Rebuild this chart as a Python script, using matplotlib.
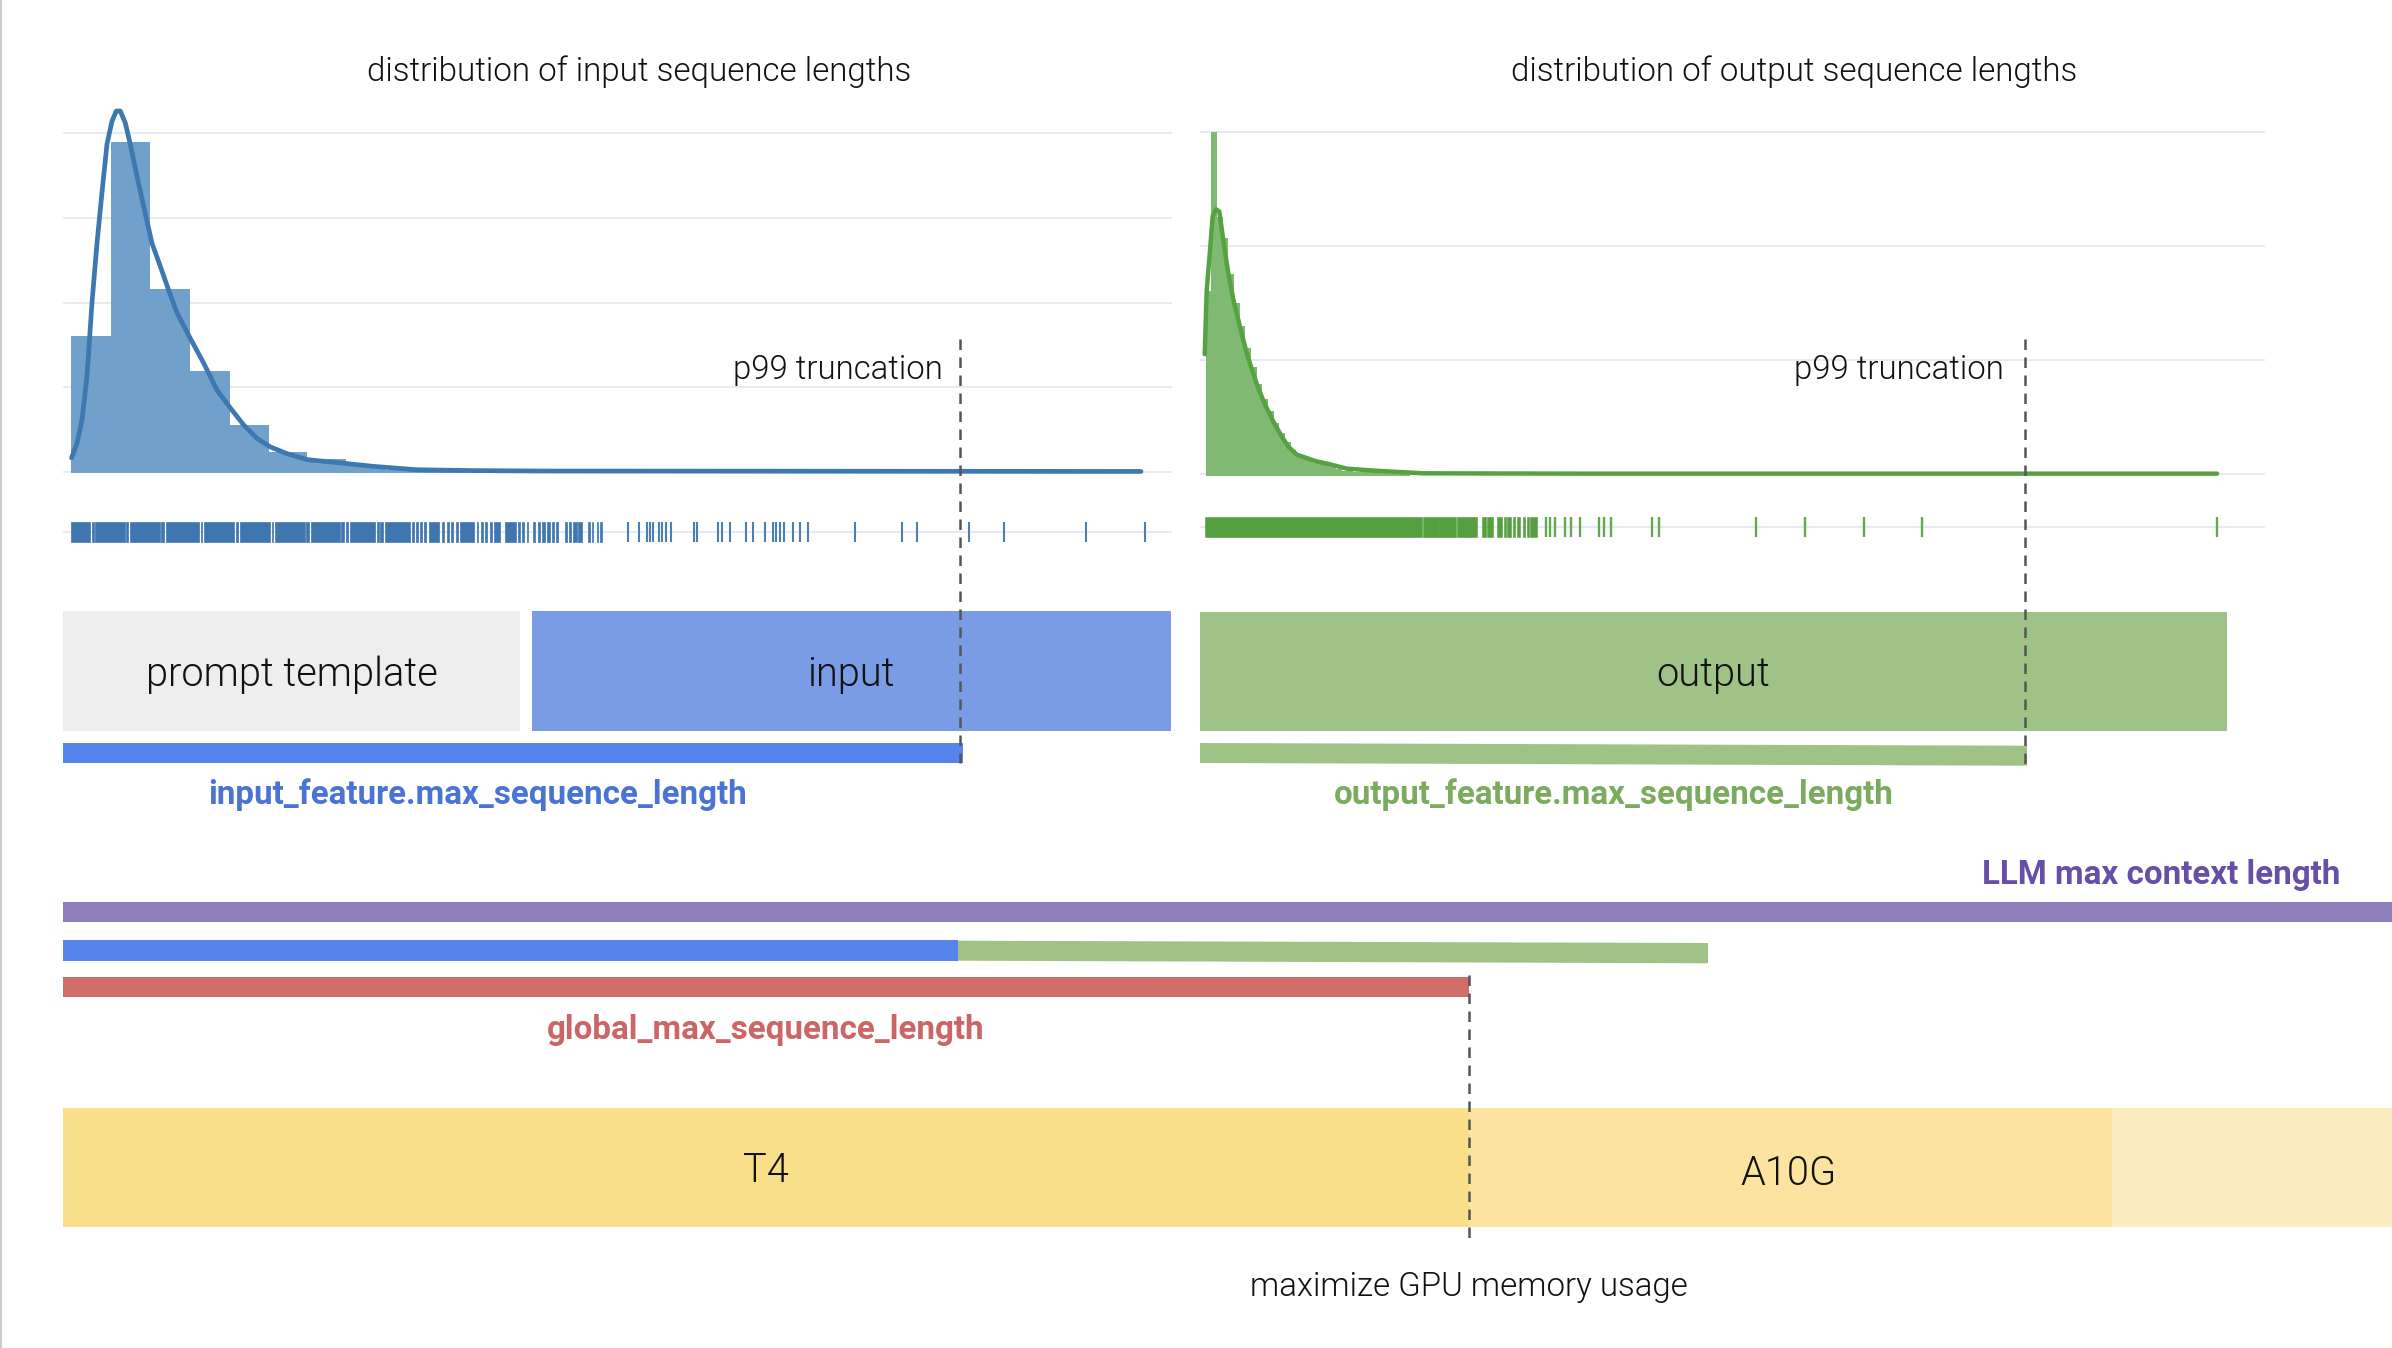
import matplotlib
matplotlib.use("Agg")
import matplotlib.pyplot as plt
from matplotlib.patches import Polygon, Rectangle

plt.rcParams['font.family'] = ['Roboto', 'DejaVu Sans']

W, H = 2392, 1348

# ---------- data ----------
in_bin_edges = [0, 39.4, 78.8, 119, 158.4, 197.8, 235.5, 275, 314, 354, 394]
in_bin_heights = [1.61, 3.90, 2.16, 1.20, 0.56, 0.24, 0.16, 0.07, 0.03, 0.015]
in_kde_x = [0.3, 5.7, 10.7, 15.7, 20.7, 25.7, 30.7, 35.7, 40.7, 45, 49, 54, 59, 65.7, 72.3, 80.7, 89, 97.3,
            105.7, 119, 132.3, 145.7, 159, 172.3, 185.7, 199, 215.7, 235.7, 269, 302.3, 345.7, 402, 469, 1070]
in_kde_y = [.17, .34, .62, 1.13, 2.0, 2.70, 3.30, 3.87, 4.14, 4.26, 4.26, 4.12, 3.87, 3.49, 3.14, 2.70, 2.43, 2.15,
            1.88, 1.58, 1.29, .97, .76, .56, .40, .30, .22, .15, .11, .07, .03, .02, .015, .01]
in_rug_runs = [(0, 19), (20.3, 22.3), (23.7, 53.3), (55, 57), (58.7, 88.3), (90, 92.7), (94.3, 127.3), (129.3, 131),
               (133, 162.7), (164.7, 166.7), (168.3, 198.3), (200.3, 202), (204, 233.3), (235, 237.3), (239.7, 268.3),
               (270, 272.3), (274.3, 276.3), (278.3, 304), (305.7, 307.3), (309, 311.7), (313.3, 339), (340.7, 342.3),
               (344.3, 346.7), (349, 350.7), (353, 355), (357.3, 368.3), (371, 373), (375.7, 377.7), (380.3, 382.3),
               (385, 386.7), (389, 403), (405.7, 407.3), (409.7, 411.7), (414, 415.7), (419, 420.7), (423.3, 429),
               (434, 444.7), (447.3, 449), (450.7, 453), (455.7, 457.3), (461.7, 464.3), (467.3, 469), (470.7, 474),
               (476.3, 479), (480.7, 483), (485, 487.3), (494, 495.7), (498, 499.7), (502.3, 505.7), (507.3, 510.7),
               (517.3, 519), (521.3, 522.3), (525.7, 527.3), (529, 530.7)]
in_rug_ticks = [556.4, 568, 575.7, 578.6, 581.6, 587.5, 591.2, 594.9, 600, 623, 626, 646.7, 651, 658.5, 674.8, 682,
                694, 701.4, 705, 708.8, 713.2, 721.4, 728.8, 736.9, 783.5, 830.9, 846.4, 897.5, 933, 1015, 1073.5]

out_bin_heights = [1.60, 3.00, 2.25, 2.07, 1.75, 1.50, 1.30, 1.10, .94, .79, .66, .55, .45, .36, .28, .21, .17, .15,
                   .12, .10, .09, .08, .06, .044, .03, .023, .02, .02, .018, .015, .015, .012, .012, .01, .01, .01]
out_bin_width = 5.67
out_bin_left = [0.7, 6.37, 12.04, 17.71, 23.38, 29.05, 34.72, 40.39, 46.06, 51.73, 57.4, 63.07, 68.74, 74.41, 80.08,
                85.75, 91.42, 97.09, 102.76, 108.43, 114.1, 119.77, 125.44, 131.11, 136.78, 142.45, 148.12, 153.79,
                159.46, 165.13, 170.8, 176.47, 182.14, 187.81, 193.48, 199.15]
out_kde_x = [-0.3, 1.7, 5, 7.7, 11, 14.3, 18.3, 23.3, 28.3, 35, 41.7, 48.3, 53.3, 60, 68.3, 76.7, 83.3, 91.7, 101.7,
             111.7, 125, 141.7, 168.3, 218.3, 385, 1012]
out_kde_y = [1.05, 1.61, 1.96, 2.26, 2.32, 2.30, 2.05, 1.76, 1.53, 1.29, 1.06, .88, .75, .61, .46, .33, .24, .17, .14,
             .11, .085, .047, .03, .006, .003, .003]
out_rug_runs = [(0, 217), (218, 233.7), (234.3, 250.7), (251.5, 271.7), (276.7, 281), (282.3, 288.3), (292, 297),
                (299.3, 301), (302.3, 305.7), (307.7, 310), (312.3, 315), (317.7, 320), (321.7, 323.7), (325, 332.3)]
out_rug_ticks = [340.7, 345, 350, 360, 365.7, 375, 394, 399.3, 406.3, 447, 454, 551, 600, 659, 717, 1012]

grid_levels_in = [0, 1, 2, 3, 4]
grid_levels_out = [0, 1, 2, 3]

# schematic segments: start, end, top, bottom
segments = {
    "prompt": (62.8, 520, 611, 730.7),
    "input": (531.6, 1171, 611, 730.7),
    "output": (1199.5, 2227, 611.7, 731.3),
    "input_bar": (62.8, 962.6, 743, 763),
    "context": (62.8, 2392, 902.3, 922.3),
    "blue_row": (62.8, 958, 940, 960.7),
    "global": (62.8, 1469, 977, 997),
    "t4": (62.8, 1469, 1107.7, 1227),
    "a10g": (1469, 2112, 1107.7, 1227),
    "spare": (2112, 2392, 1107.7, 1227),
}
seg_colors = {
    "prompt": "#eeeeee", "input": "#7a9ce4", "output": "#9fc386", "input_bar": "#5484ec",
    "context": "#8e7dbd", "blue_row": "#5484ec", "global": "#d26d6a", "t4": "#fadf8b",
    "a10g": "#fce4a0", "spare": "#fcedc0",
}
# sloped bars: x-left, x-right, top-left, bottom-left, top-right, bottom-right
out_bar = (1200, 2027, 743, 763, 745.7, 765.7)
row_bar = (958, 1708, 940.7, 960.7, 943, 963.3)
# dashed guides: x, top, bottom
guides = [(960.3, 339, 763), (2024.5, 339, 765), (1469, 975, 1240)]

light_labels = [
    ("distribution of input sequence lengths", 639, 72, 23.9),
    ("distribution of output sequence lengths", 1794, 72, 23.9),
    ("p99 truncation", 837.5, 370, 23.7),
    ("p99 truncation", 1899, 370, 23.7),
    ("prompt template", 291.5, 675, 28.6),
    ("input", 851, 675, 28.6),
    ("output", 1713, 675, 28.6),
    ("T4", 766, 1171, 28.6),
    ("A10G", 1789, 1174, 28.6),
    ("maximize GPU memory usage", 1469, 1287, 23.8),
]
bold_labels = [
    ("input_feature.max_sequence_length", 477.5, 795, "#4a74d4"),
    ("output_feature.max_sequence_length", 1614, 795, "#7aab5e"),
    ("LLM max context length", 2161, 874.6, "#674ea7"),
    ("global_max_sequence_length", 766, 1030, "#cc6666"),
]

# ---------- figure ----------
fig = plt.figure(figsize=(W / 100, H / 100), dpi=100, facecolor="white")


def axes_px(left, right, top, bottom, **kw):
    return fig.add_axes([left / W, 1 - bottom / H, (right - left) / W, (bottom - top) / H], **kw)


def style(ax):
    for sp in ax.spines.values():
        sp.set_visible(False)
    ax.patch.set_alpha(0)
    ax.tick_params(length=0, labelbottom=False, labelleft=False)
    ax.set_xticks([])
    ax.set_axisbelow(True)
    ax.yaxis.grid(True, color="#e8eaf3", lw=1.4)


LINE_IN = "#3d78b1"
LINE_OUT = "#55a240"

# input distribution
a1 = axes_px(63, 1172, 100, 480)
style(a1)
a1.set_xlim(-8.3, 1101)
a1.set_ylim(-0.0908, 4.39)
a1.set_yticks(grid_levels_in)
a1.bar(in_bin_edges[:-1], [h + 0.012 for h in in_bin_heights],
       width=[b - a for a, b in zip(in_bin_edges[:-1], in_bin_edges[1:])],
       bottom=-0.012, align="edge", color="#71a0ca", lw=0)
a1.plot(in_kde_x, in_kde_y, color=LINE_IN, lw=3.4, solid_capstyle="round")

# output distribution
a2 = axes_px(1200, 2265, 100, 480)
style(a2)
a2.set_xlim(-5, 1060)
a2.set_ylim(-0.0526, 3.278)
a2.set_yticks(grid_levels_out)
a2.bar(out_bin_left, [h + 0.015 for h in out_bin_heights], width=out_bin_width, bottom=-0.015,
       align="edge", color="#7fb972", lw=0)
a2.plot(out_kde_x, out_kde_y, color=LINE_OUT, lw=3.2, solid_capstyle="round")

# rugs
r1 = axes_px(63, 1172, 511.7, 551.7)
style(r1)
r1.set_xlim(-8.3, 1101)
r1.set_ylim(-2, 2)
r1.set_yticks([0])
r1.broken_barh([(a, b - a) for a, b in in_rug_runs], (-1, 2), facecolor="#3f76b0", edgecolor="#3f76b0", lw=0.5)
r1.vlines(in_rug_ticks, -1, 1, color="#4a80b6", lw=1.5)

r2 = axes_px(1200, 2265, 506.7, 546.7)
style(r2)
r2.set_xlim(-5, 1060)
r2.set_ylim(-2, 2)
r2.set_yticks([0])
r2.broken_barh([(a, b - a) for a, b in out_rug_runs], (-1, 2), facecolor="#55a03e", edgecolor="#55a03e", lw=0.4)
r2.vlines(out_rug_ticks, -1, 1, color="#62a950", lw=1.7)

# schematic layer
s = fig.add_axes([0, 0, 1, 1])
s.set_xlim(0, W)
s.set_ylim(H, 0)
s.axis("off")
s.patch.set_alpha(0)

for name, (x0, x1, y0, y1) in segments.items():
    s.add_patch(Rectangle((x0, y0), x1 - x0, y1 - y0, facecolor=seg_colors[name], edgecolor="none", zorder=1))
for xl, xr, tl, bl, tr, br in (out_bar, row_bar):
    s.add_patch(Polygon([(xl, tl), (xr, tr), (xr, br), (xl, bl)], closed=True,
                        facecolor="#9fc386", edgecolor="none", zorder=1))
for x, y0, y1 in guides:
    s.plot([x, x], [y0, y1], color="#555555", lw=1.8, dashes=(4.2, 3), zorder=3)
s.plot([1, 1], [0, H], color="#cccccc", lw=1.4, zorder=3)

for txt, x, y, size in light_labels:
    s.text(x, y, txt, ha="center", va="center", fontsize=size, fontweight=300, color="#111111", zorder=4)
for txt, x, y, col in bold_labels:
    s.text(x, y, txt, ha="center", va="center", fontsize=23.9, fontweight="bold", color=col, zorder=4)

fig.savefig("out.png", dpi=100)
